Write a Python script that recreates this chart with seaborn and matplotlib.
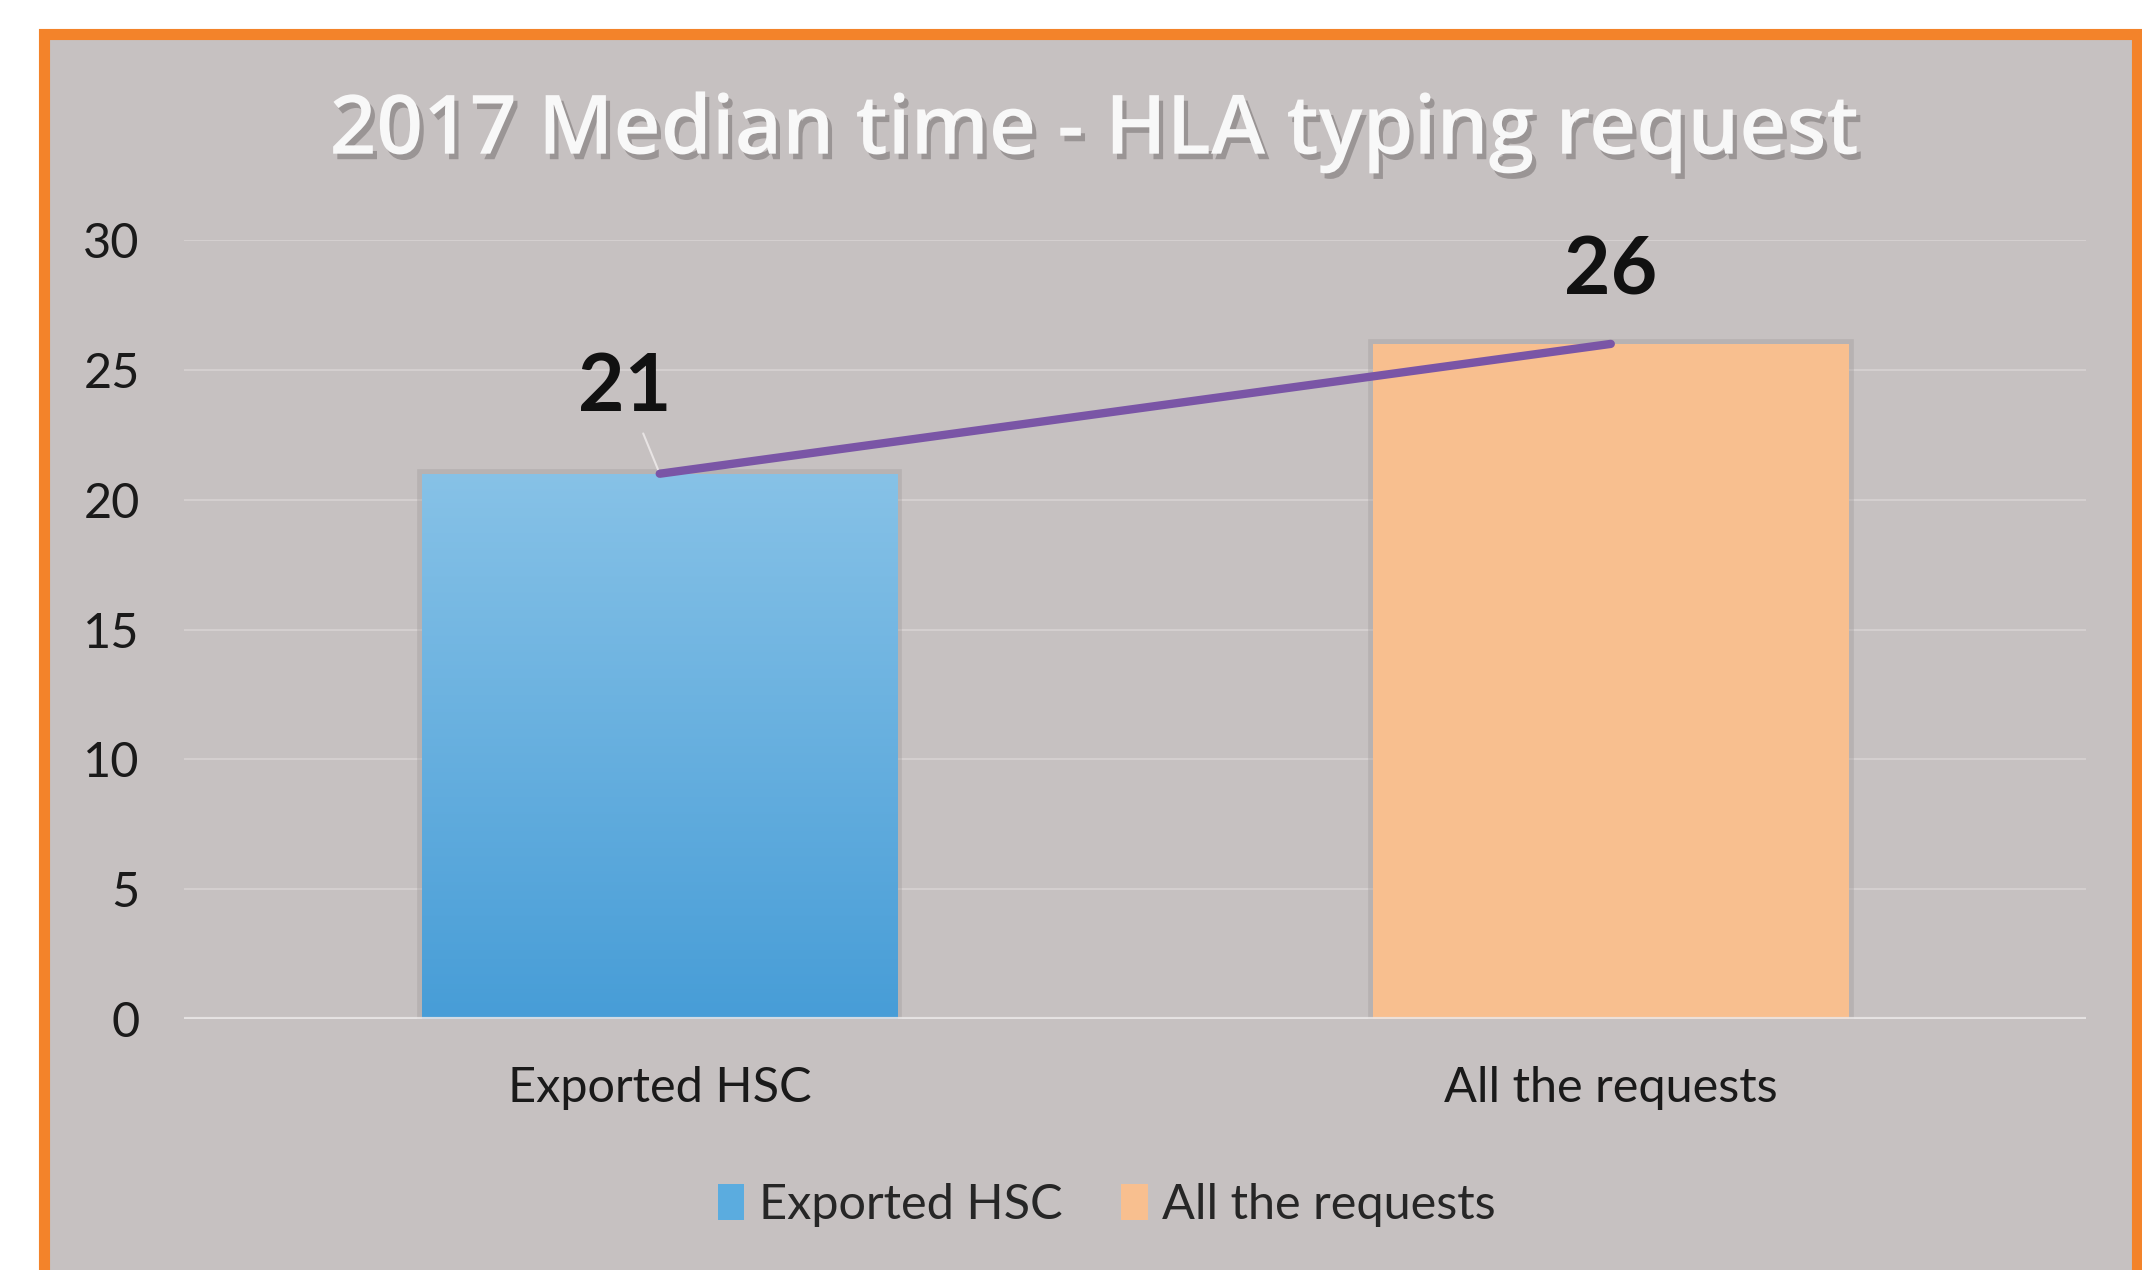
import numpy as np
import seaborn as sns
import matplotlib.pyplot as plt
import matplotlib.patches as mpatches
import matplotlib.patheffects as pe
from matplotlib.colors import LinearSegmentedColormap

# Data
categories = ['Exported HSC', 'All the requests']
values = [21, 26]
bar_colors = ['#5BACDF', '#F8BF8F']
title = '2017 Median time - HLA typing request'

sns.set_theme(style='white')
plt.rcParams['font.family'] = ['Lato', 'DejaVu Sans']

fig = plt.figure(figsize=(21.42, 12.7), dpi=100)
fig.patch.set_facecolor('white')

# gray panel with orange frame
panel = mpatches.Rectangle((0.0205, -0.05), 0.977, 1.023, transform=fig.transFigure,
                           facecolor='#C6C1C1', edgecolor='#F3832A', lw=8, zorder=0)
fig.add_artist(panel)

ax = fig.add_axes([0.086, 0.1976, 0.888, 0.6134])
ax.set_facecolor('none')

sns.barplot(x=categories, y=values, hue=categories, palette=bar_colors, width=0.5,
            saturation=1, legend=False, ax=ax, zorder=2, linewidth=0)

# soft shadow round the bars + gradient on the blue one
for p in ax.patches:
    p.set_linewidth(0)
    p.set_path_effects([pe.Stroke(linewidth=7, foreground='#A29D9D', alpha=0.4), pe.Normal()])
blue = ax.patches[0]
x0, y0 = blue.get_x(), blue.get_y()
grad = np.linspace(0, 1, 256).reshape(-1, 1)
cmap = LinearSegmentedColormap.from_list('g', ['#87C2E7', '#479DD7'])
im = ax.imshow(grad, cmap=cmap, extent=[x0, x0 + blue.get_width(), y0, y0 + blue.get_height()],
               aspect='auto', origin='upper', zorder=2.5)
im.set_clip_path(blue)

# line linking the bar tops
sns.lineplot(x=categories, y=values, sort=False, color='#7A55A6', lw=6, ax=ax, zorder=4)

# data labels
ax.annotate(str(values[0]), xy=(0, values[0]), xytext=(-0.037, 24.3), ha='center', va='center',
            fontsize=58, fontweight='bold', color='#111111',
            arrowprops=dict(arrowstyle='-', color='#E8E4E4', lw=1.5, shrinkA=4, shrinkB=0))
ax.text(1, 28.8, str(values[1]), ha='center', va='center', fontsize=58,
        fontweight='bold', color='#111111')

ax.set_xlim(-0.5, 1.5)
ax.set_ylim(0, 30)
ax.set_yticks(range(0, 31, 5))
ax.yaxis.grid(True, color='#D4CFCF', lw=1.5)
ax.set_axisbelow(True)
ax.axhline(0, color='#EAE7E7', lw=3, alpha=0.85, zorder=3)
for s in ax.spines.values():
    s.set_visible(False)
ax.tick_params(axis='y', length=0, pad=32, labelsize=35, labelcolor='#1A1A1A')
ax.tick_params(axis='x', length=0, pad=34, labelsize=35, labelcolor='#1A1A1A')
ax.set_xlabel('')
ax.set_ylabel('')

# legend
handles = [mpatches.Patch(color=c, label=l, lw=0) for c, l in zip(bar_colors, categories)]
ax.legend(handles=handles, loc='center', bbox_to_anchor=(0.485, -0.239), ncol=2, frameon=False,
          fontsize=35, handlelength=0.55, handleheight=0.75, handletextpad=0.3, columnspacing=1.2)

# title
fig.text(0.511, 0.879, title, ha='center', va='baseline', fontsize=59, fontweight='semibold',
         family=['Open Sans', 'DejaVu Sans'], color='#F8F8F8',
         path_effects=[pe.withSimplePatchShadow(offset=(3, -4), shadow_rgbFace='#7E7878', alpha=0.6)])

fig.savefig('out.png', dpi=100)
